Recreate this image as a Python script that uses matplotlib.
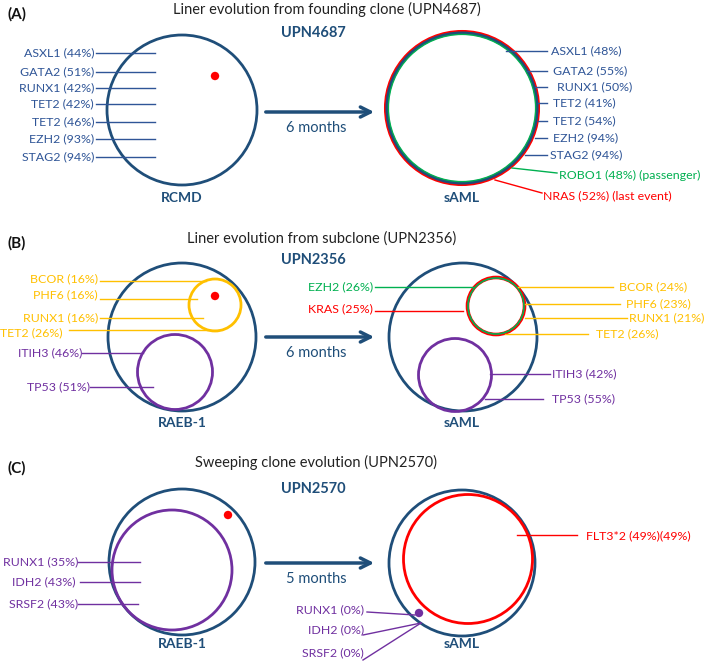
import matplotlib.pyplot as plt
from matplotlib.patches import Circle

plt.rcParams['font.family'] = ['Lato', 'DejaVu Sans']

NAVY = '#1f4e79'
BLUE = '#2f5597'
YEL = '#ffc000'
PUR = '#7030a0'
GRN = '#00b050'
RED = '#ff0000'

# panel texts
panel_tags = ['(A)', '(B)', '(C)']
panel_titles = ['Liner evolution from founding clone (UPN4687)',
                'Liner evolution from subclone (UPN2356)',
                'Sweeping clone evolution (UPN2570)']
patients = ['UPN4687', 'UPN2356', 'UPN2570']
intervals = ['6 months', '6 months', '5 months']
before_dx = ['RCMD', 'RAEB-1', 'RAEB-1']
after_dx = ['sAML', 'sAML', 'sAML']

# mutations with VAF
a_before = ['ASXL1 (44%)', 'GATA2 (51%)', 'RUNX1 (42%)', 'TET2 (42%)',
            'TET2 (46%)', 'EZH2 (93%)', 'STAG2 (94%)']
a_after = ['ASXL1 (48%)', 'GATA2 (55%)', 'RUNX1 (50%)', 'TET2 (41%)',
           'TET2 (54%)', 'EZH2 (94%)', 'STAG2 (94%)']
a_new = ['ROBO1 (48%) (passenger)', 'NRAS (52%) (last event)']

b_before_sub = ['BCOR (16%)', 'PHF6 (16%)', 'RUNX1 (16%)', 'TET2 (26%)']
b_before_p53 = ['ITIH3 (46%)', 'TP53 (51%)']
b_after_new = ['EZH2 (26%)', 'KRAS (25%)']
b_after_sub = ['BCOR (24%)', 'PHF6 (23%)', 'RUNX1 (21%)', 'TET2 (26%)']
b_after_p53 = ['ITIH3 (42%)', 'TP53 (55%)']

c_before = ['RUNX1 (35%)', 'IDH2 (43%)', 'SRSF2 (43%)']
c_after_lost = ['RUNX1 (0%)', 'IDH2 (0%)', 'SRSF2 (0%)']
c_after_new = ['FLT3*2 (49%)(49%)']

fig = plt.figure(figsize=(7.09, 6.64), dpi=100)
ax = fig.add_axes([0, 0, 1, 1])
ax.set_xlim(0, 709)
ax.set_ylim(664, 0)
ax.axis('off')


def circ(x, y, r, c, lw=2.0):
    ax.add_patch(Circle((x, y), r, fill=False, ec=c, lw=lw))


def dot(x, y, c):
    ax.add_patch(Circle((x, y), 4.2, fc=c, ec='none'))


def seg(x0, y0, x1, y1, c, lw=1.0):
    ax.plot([x0, x1], [y0, y1], color=c, lw=lw)


def lab(x, y, s, c, ha='left', size=8.9):
    ax.text(x, y, s, color=c, ha=ha, va='center', fontsize=size)


# headers
tag_y = [14, 243, 468]
title_y = [9, 239, 462]
title_x = [327, 322, 316]
upn_y = [33, 260, 489]
arrow_y = [112, 337, 563]
dx_y = [198, 423, 644]
for i in range(3):
    ax.text(7, tag_y[i], panel_tags[i], fontsize=11, fontweight='bold',
            va='center', color='#111111')
    ax.text(title_x[i], title_y[i], panel_titles[i], fontsize=10.5,
            ha='center', va='center', color='#222222')
    ax.text(313, upn_y[i], patients[i], fontsize=10.5, fontweight='bold',
            ha='center', va='center', color=NAVY)
    ax.annotate('', xy=(377, arrow_y[i]), xytext=(263, arrow_y[i]),
                arrowprops=dict(arrowstyle='->', color=NAVY, lw=2.5,
                                mutation_scale=18))
    ax.text(316, arrow_y[i] + 16, intervals[i], fontsize=10.5, ha='center',
            va='center', color=NAVY)
    ax.text(182, dx_y[i], before_dx[i], fontsize=10, fontweight='bold',
            ha='center', va='center', color=NAVY)
    ax.text(462, dx_y[i], after_dx[i], fontsize=10, fontweight='bold',
            ha='center', va='center', color=NAVY)

# ---- panel A
circ(182, 110, 75, NAVY)
dot(215, 76, RED)
ya = [53, 72, 88, 104, 122, 139, 157]
for s, y in zip(a_before, ya):
    lab(94, y, s, BLUE, ha='right')
    seg(96, y, 155, y, BLUE)

circ(462, 108, 76.5, RED, lw=2.2)
circ(462, 108, 75, NAVY, lw=2.2)
circ(462, 108, 73.6, GRN, lw=1.0)
ya2 = [51, 71, 87, 103, 121, 138, 155]
xa2 = [506, 527, 535, 538, 538, 535, 525]
xt2 = [551, 553, 557, 553, 553, 553, 550]
for s, y, x0, xt in zip(a_after, ya2, xa2, xt2):
    seg(x0, y, 547, y, BLUE)
    lab(xt, y, s, BLUE)
seg(512, 168, 557, 173, GRN)
lab(559, 175, a_new[0], GRN)
seg(495, 180, 542, 193, RED)
lab(543, 196, a_new[1], RED)

# ---- panel B
circ(182, 337, 74, NAVY)
circ(215, 305, 26, YEL)
circ(175, 372, 37.5, PUR)
dot(215, 296, RED)
yb_line = [281, 299, 318, 330]
yb_text = [279, 295, 318, 333]
xb_text = [98, 98, 98, 62]
xb_l0 = [100, 100, 100, 69]
xb_l1 = [206, 197, 203, 218]
for s, yl, yt, xt, x0, x1 in zip(b_before_sub, yb_line, yb_text, xb_text,
                                  xb_l0, xb_l1):
    lab(xt, yt, s, YEL, ha='right')
    seg(x0, yl, x1, yl, YEL)
for s, y, xt, x1 in zip(b_before_p53, [353, 387], [82, 90], [143, 153]):
    lab(xt, y, s, PUR, ha='right')
    seg(xt, y, x1, y, PUR)

circ(463, 337, 74, NAVY)
circ(496, 306, 28.5, RED, lw=2.6)
circ(496, 306, 28.0, GRN, lw=1.2)
circ(455, 375, 36.5, PUR)
seg(375, 287, 473, 287, GRN)
lab(373, 287, b_after_new[0], GRN, ha='right')
seg(375, 311, 463, 311, RED)
lab(373, 309, b_after_new[1], RED, ha='right')
ybr = [287, 304, 318, 334]
xbr0 = [518, 525, 525, 505]
xbr1 = [613, 620, 627, 588]
xbrt = [619, 626, 629, 596]
for s, y, x0, x1, xt in zip(b_after_sub, ybr, xbr0, xbr1, xbrt):
    seg(x0, y, x1, y, YEL)
    lab(xt, y, s, YEL)
for s, y, x0, x1 in zip(b_after_p53, [374, 399], [490, 485], [550, 543]):
    seg(x0, y, x1, y, PUR)
    lab(552, y, s, PUR)

# ---- panel C
circ(182, 562, 73, NAVY)
circ(172, 570, 60, PUR)
dot(228, 515, RED)
for s, y, xt, x0, x1 in zip(c_before, [562, 582, 604], [78, 75, 78],
                            [78, 80, 78], [140, 140, 138]):
    lab(xt, y, s, PUR, ha='right')
    seg(x0, y, x1, y, PUR)

circ(462, 563, 73, NAVY)
circ(468, 559, 64.5, RED)
dot(419, 613, PUR)
seg(517, 535, 577, 535, RED)
lab(586, 536, c_after_new[0], RED)
lost_y = [610, 630, 653]
lost_start = [(367, 612), (363, 635), (363, 660)]
lost_end = [(415, 615), (421, 623), (421, 623)]
for s, y, p0, p1 in zip(c_after_lost, lost_y, lost_start, lost_end):
    lab(364, y, s, PUR, ha='right')
    seg(p0[0], p0[1], p1[0], p1[1], PUR)

fig.savefig('out.png', dpi=100)
